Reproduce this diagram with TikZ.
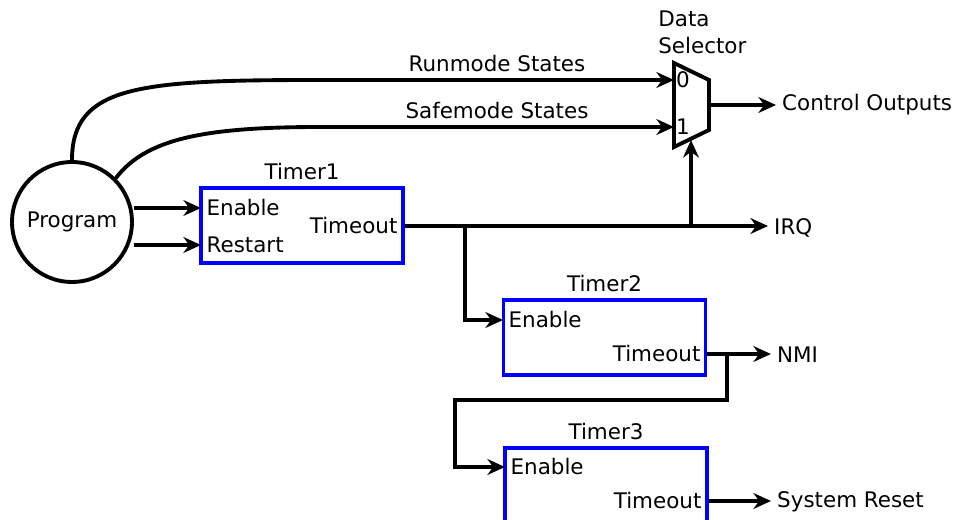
\documentclass[tikz,border=0pt]{standalone}
\usepackage{fontspec}
\setmainfont{DejaVu Sans}
\usetikzlibrary{arrows.meta}
\tikzset{
  line/.style={line width=2.2pt},
  wire/.style={line width=2.2pt, -{Stealth[length=10pt, width=9pt]}},
  timerbox/.style={draw=blue, line width=2.2pt, minimum width=4.04cm, minimum height=1.5cm, inner sep=0pt},
  port/.style={inner sep=3pt},
}
\begin{document}
\begin{tikzpicture}[x=0.02cm, y=-0.02cm, font=\fontsize{12.2}{15}\selectfont]
  \clip (0,0) rectangle (954,520);
  % program and timers
  \node[circle, draw, line width=2.2pt, minimum size=2.4cm] (prog) at (72,222) {Program};
  \node[timerbox] (t1) at (302,225.5) {};
  \node[timerbox] (t2) at (604.5,337.5) {};
  \node[timerbox] (t3) at (606,485.5) {};
  \node[above] at (t1.north) {Timer1};
  \node[above] at (t2.north) {Timer2};
  \node[above] at (t3.north) {Timer3};
  \node[port, anchor=west] (t1en) at (201,208) {Enable};
  \node[port, anchor=west] (t1rs) at (201,245) {Restart};
  \node[port, anchor=east] (t1to) at (403,226) {Timeout};
  \node[port, anchor=west] (t2en) at (503,320) {Enable};
  \node[port, anchor=east] (t2to) at (706,354) {Timeout};
  \node[port, anchor=west] (t3en) at (505,467) {Enable};
  \node[port, anchor=east] (t3to) at (707,501) {Timeout};
  % outputs
  \node[anchor=west] (irq) at (768,228) {IRQ};
  \node[anchor=west] (nmi) at (771,355) {NMI};
  \node[anchor=west] (rst) at (771,502) {System Reset};
  \node[anchor=west] (ctrl) at (776,105) {Control Outputs};
  % data selector
  \coordinate (in0) at (674,80);
  \coordinate (in1) at (674,127);
  \coordinate (mout) at (709,105);
  \coordinate (sel) at (691,140);
  \draw[line] (674,63) -- (709,80) -- (709,130) -- (674,147) -- cycle;
  \node[anchor=west, inner sep=1pt] at (in0) {0};
  \node[anchor=west, inner sep=1pt] at (in1) {1};
  \node[align=left, anchor=south west, inner sep=0pt] at (658,54) {Data\\Selector};
  % connections
  \draw[wire] (prog.north) .. controls (72,85) and (140,80) .. (320,80)
    -- node[midway, above] {Runmode States} (in0);
  \draw[wire] (prog.45) .. controls (145,140) and (200,127) .. (320,127)
    -- node[midway, above] {Safemode States} (in1);
  \draw[wire] (mout) -- (ctrl.west |- mout);
  \draw[wire] (prog.east |- t1en) -- (t1en.west);
  \draw[wire] (prog.east |- t1rs) -- (t1rs.west);
  \draw[wire] (t1.east |- t1to) -- (irq.west |- t1to);
  \coordinate (b1) at (465,226);
  \coordinate (b2) at (691,226);
  \draw[wire] (b1) |- (t2en.west);
  \draw[wire] (b2) -- (sel);
  \draw[wire] (t2.east |- t2to) -- (nmi.west |- t2to);
  \coordinate (b3) at (727,354);
  \draw[wire] (b3) |- (455,400) |- (t3en.west);
  \draw[wire] (t3.east |- t3to) -- (rst.west |- t3to);
\end{tikzpicture}
\end{document}
